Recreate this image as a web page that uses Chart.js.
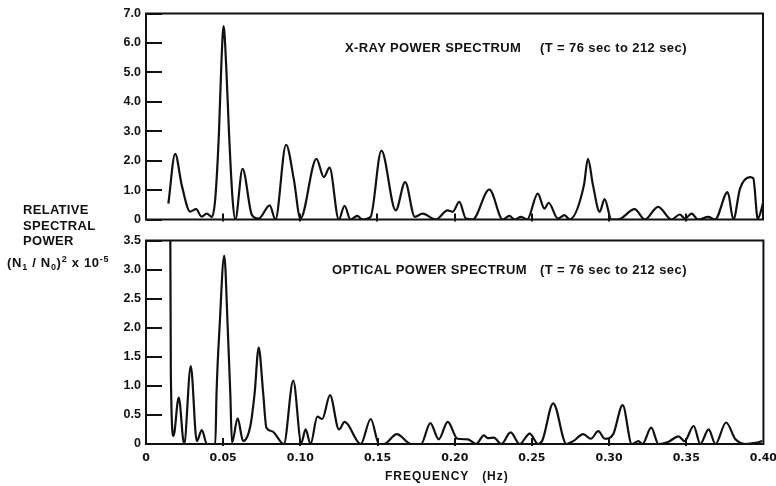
<!DOCTYPE html>
<html><head><meta charset="utf-8">
<script src="https://cdn.jsdelivr.net/npm/chart.js@4.4.1/dist/chart.umd.min.js"></script>
<style>
html,body{margin:0;padding:0;background:#fff;}
#wrap{position:relative;width:776px;height:486px;overflow:hidden;background:#fff;font-family:'Liberation Sans',Arial,sans-serif;color:#111;}
canvas{position:absolute;left:0;}
.t{position:absolute;white-space:pre;font-weight:bold;line-height:1;font-size:13px;letter-spacing:0.4px;}
</style></head><body>
<div id="wrap">
<canvas id="topChart" width="776" height="232" style="top:0"></canvas>
<canvas id="botChart" width="785" height="258" style="top:228px"></canvas>
<div class="t" style="left:345px;top:40.6px">X-RAY POWER SPECTRUM</div>
<div class="t" style="left:540px;top:40.6px">(T = 76 sec to 212 sec)</div>
<div class="t" style="left:332px;top:262.6px">OPTICAL POWER SPECTRUM</div>
<div class="t" style="left:540px;top:262.6px">(T = 76 sec to 212 sec)</div>
<div class="t" style="left:23px;top:202px;line-height:15.5px;letter-spacing:0.3px">RELATIVE
SPECTRAL
POWER</div>
<div class="t" style="left:7px;top:256px;letter-spacing:0.7px">(N<span style="font-size:9px;position:relative;top:3px">1</span> / N<span style="font-size:9px;position:relative;top:3px">0</span>)<span style="font-size:9px;position:relative;top:-5px">2</span> x 10<span style="font-size:9px;position:relative;top:-5px">-5</span></div>
<div class="t" style="left:385px;top:470px;font-size:12px;letter-spacing:1px">FREQUENCY   (Hz)</div>
</div>
<script>
const xTickLabels = ["0","0.05","0.10","0.15","0.20","0.25","0.30","0.35","0.40"];
const xrayYTickLabels = ["0","1.0","2.0","3.0","4.0","5.0","6.0","7.0"];
const opticalYTickLabels = ["0","0.5","1.0","1.5","2.0","2.5","3.0","3.5"];

const xrayFreq = [0.0145,0.0189,0.0232,0.0286,0.0325,0.036,0.0394,0.0427,0.0449,0.0473,0.0488,0.0503,0.052,0.0538,0.0561,0.0579,0.0626,0.0687,0.073,0.0802,0.0839,0.0908,0.0958,0.1001,0.1105,0.1153,0.119,0.125,0.1287,0.1326,0.137,0.1402,0.1456,0.1526,0.1619,0.168,0.1743,0.1793,0.1879,0.1955,0.1988,0.2031,0.2074,0.2118,0.2226,0.2313,0.2356,0.2389,0.2432,0.2471,0.254,0.2583,0.261,0.267,0.2713,0.2746,0.2839,0.2865,0.2898,0.2941,0.2973,0.3017,0.306,0.3168,0.3234,0.332,0.3407,0.3461,0.3494,0.3537,0.358,0.3645,0.3689,0.3771,0.3808,0.3851,0.3916,0.3937,0.3966,0.4003];
const xrayPower = [0.54,2.23,1.16,0.27,0.35,0.1,0.2,0.09,0.71,2.96,5.21,6.57,5.21,2.96,0.71,0.0,1.72,0.15,0.03,0.48,0.0,2.54,1.38,0.03,2.06,1.44,1.76,0.0,0.46,0.0,0.12,0.0,0.09,2.34,0.31,1.27,0.09,0.2,0.0,0.31,0.26,0.6,0.03,0.0,1.02,0.0,0.12,0.0,0.09,0.0,0.88,0.37,0.57,0.03,0.15,0.0,1.16,2.06,1.16,0.26,0.69,0.0,0.0,0.35,0.0,0.43,0.0,0.17,0.03,0.2,0.0,0.09,0.0,0.93,0.0,1.05,1.44,1.40,0.03,0.6];

const opticalFreq = [0.0157,0.0161,0.0178,0.0212,0.0247,0.029,0.0329,0.0362,0.0394,0.0449,0.0457,0.0477,0.0507,0.0529,0.0546,0.0557,0.0594,0.0629,0.0676,0.0704,0.073,0.0759,0.078,0.0817,0.0893,0.0954,0.1006,0.1034,0.1066,0.111,0.1142,0.1192,0.125,0.1287,0.1391,0.1456,0.151,0.1542,0.1625,0.1717,0.1782,0.1842,0.1896,0.1955,0.2018,0.2085,0.2139,0.2189,0.2214,0.2254,0.2302,0.2362,0.2421,0.2486,0.254,0.2569,0.2638,0.2724,0.2768,0.2833,0.2882,0.293,0.2973,0.3027,0.3088,0.3147,0.319,0.3216,0.3273,0.332,0.3385,0.345,0.3489,0.3548,0.3591,0.3645,0.3689,0.3758,0.3819,0.3884,0.3949,0.3992];
const opticalPower = [4.0,1.2,0.14,0.8,0.0,1.34,0.05,0.24,0.0,0.0,0.88,2.03,3.24,2.03,0.88,0.02,0.44,0.05,0.31,0.88,1.66,0.88,0.28,0.22,0.0,1.09,0.02,0.25,0.0,0.47,0.43,0.84,0.25,0.38,0.0,0.43,0.0,0.0,0.17,0.0,0.0,0.36,0.08,0.38,0.09,0.08,0.0,0.15,0.1,0.11,0.0,0.2,0.0,0.18,0.0,0.07,0.7,0.0,0.05,0.17,0.09,0.22,0.09,0.17,0.67,0.0,0.05,0.0,0.28,0.0,0.04,0.13,0.05,0.31,0.0,0.25,0.0,0.37,0.08,0.0,0.02,0.05];

const INK = '#111';
const framePlugin = {
  id: 'frame',
  afterDatasetsDraw(chart) {
    const {ctx, chartArea: a, scales: {x, y}} = chart;
    ctx.save();
    ctx.strokeStyle = INK;
    ctx.lineWidth = 2;
    ctx.strokeRect(a.left, a.top, a.right - a.left, a.bottom - a.top);
    y.ticks.forEach(t => {
      const py = Math.round(y.getPixelForValue(t.value));
      ctx.beginPath(); ctx.moveTo(a.left, py); ctx.lineTo(a.left + 16, py); ctx.stroke();
    });
    x.ticks.forEach(t => {
      if (t.value <= 1e-9 || t.value >= 0.4 - 1e-9) return;
      const px = Math.round(x.getPixelForValue(t.value));
      ctx.beginPath(); ctx.moveTo(px, a.bottom + 2); ctx.lineTo(px, a.bottom - 6); ctx.stroke();
    });
    ctx.restore();
  }
};

function makeChart(id, freq, power, yMax, yStep, yLabels, showX, pad, xHeight) {
  return new Chart(document.getElementById(id), {
    type: 'line',
    data: { datasets: [{
      data: freq.map((f, i) => ({x: f, y: power[i]})),
      borderColor: INK, borderWidth: 2.2, pointRadius: 0,
      cubicInterpolationMode: 'monotone', fill: false
    }]},
    options: {
      responsive: false, animation: false, devicePixelRatio: 1, events: [],
      layout: { padding: pad },
      plugins: { legend: {display: false}, tooltip: {enabled: false} },
      scales: {
        x: {
          type: 'linear', min: 0, max: 0.4,
          grid: {display: false, drawTicks: false}, border: {display: false},
          ticks: {display: showX, stepSize: 0.05, autoSkip: false, maxRotation: 0, padding: 8,
                  color: INK, font: {family: 'DejaVu Sans', size: 11, weight: 'bold'},
                  callback: (v, i) => xTickLabels[i]},
          afterFit: s => { s.height = xHeight; }
        },
        y: {
          min: 0, max: yMax,
          grid: {display: false, drawTicks: false}, border: {display: false},
          ticks: {stepSize: yStep, padding: 5, color: INK,
                  font: {family: 'Liberation Sans', size: 12.5, weight: 'bold'},
                  callback: (v, i) => yLabels[i]},
          afterFit: s => { s.width = 146; }
        }
      }
    },
    plugins: [framePlugin]
  });
}

makeChart('topChart', xrayFreq, xrayPower, 7, 1, xrayYTickLabels, false, {top: 13.5, right: 13, bottom: 0, left: 0}, 10);
makeChart('botChart', opticalFreq, opticalPower, 3.5, 0.5, opticalYTickLabels, true, {top: 10, right: 0, bottom: 0, left: 0}, 42);
</script>
</body></html>
